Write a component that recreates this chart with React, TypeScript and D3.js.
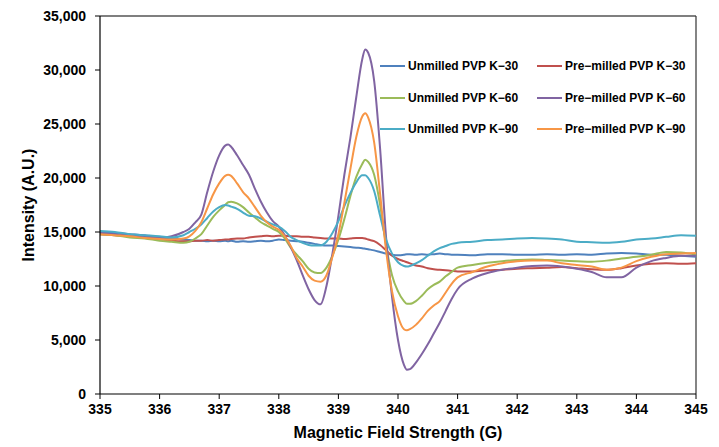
import React from "react";
import * as d3 from "d3";

const field = [335,335.25,335.5,335.75,336,336.2,336.4,
  336.5,336.6,336.7,336.8,336.9,337,337.1,337.15,
  337.2,337.3,337.4,337.5,337.6,337.7,337.8,337.9,338,338.1,338.2,338.3,338.4,338.5,338.6,338.7,338.8,338.9,339,339.1,339.2,339.3,339.4,
  339.45,339.5,339.6,339.7,339.8,339.9,340,340.1,340.15,
  340.2,340.3,340.4,340.5,340.6,340.7,340.8,340.9,341,
  341.25,341.5,341.75,342,342.25,342.5,342.75,343,343.25,343.5,343.75,344,344.25,344.5,344.75,345];

const unmilledK30 = [15000,14900,14800,14700,14500,14400,14300,
  14250,14200,14200,14150,14200,14150,14200,14150,
  14200,14100,14150,14100,14150,14200,14150,14200,14300,14250,14200,14150,14100,14000,13900,13800,13750,13750,13700,13650,13600,13550,13500,
  13450,13400,13300,13150,13000,12900,12850,12900,12950,
  12950,12900,12950,12900,12950,13000,12950,12900,12900,
  12850,12950,12950,12900,12900,12950,12900,12950,12900,13000,13050,13000,12900,12900,12800,12700];

const premilledK30 = [14800,14700,14600,14500,14300,14200,14150,
  14150,14200,14200,14250,14200,14250,14300,14300,
  14350,14400,14400,14500,14550,14600,14650,14600,14650,14650,14600,14600,14550,14550,14500,14450,14400,14400,14400,14350,14400,14450,14450,
  14400,14300,14150,13800,13300,12800,12500,12300,12200,
  12100,11900,11800,11650,11550,11500,11450,11400,11350,
  11350,11450,11500,11600,11650,11700,11750,11650,11550,11500,11650,11900,12050,12100,12050,12100];

const unmilledK60 = [14800,14700,14500,14400,14200,14100,14000,
  14100,14400,14800,15600,16400,17000,17500,17750,
  17800,17650,17300,16800,16350,15900,15600,15300,15000,14400,13550,12900,12300,11600,11250,11200,11700,12800,14300,16200,18300,20100,21300,
  21700,21500,20300,17500,13800,11000,9500,8600,8350,
  8350,8600,9100,9700,10100,10400,10900,11300,11700,
  11950,12150,12300,12400,12450,12400,12350,12300,12250,12350,12550,12700,12900,13150,13100,12900];

const premilledK60 = [14900,14800,14700,14600,14450,14600,15000,
  15300,15900,16600,18700,20600,22100,23000,23100,
  22900,22100,21200,20300,19000,17800,16800,16000,15500,14700,13600,12400,11000,9700,8700,8300,10000,13000,16500,20300,23700,27500,31000,
  31900,31600,29000,22700,14500,9000,5000,2700,2250,
  2300,2900,3700,4600,5600,6600,7700,8800,9700,
  10700,11200,11500,11700,11850,11900,11800,11600,11300,10800,10800,11700,12300,12600,12800,12800];

const unmilledK90 = [15100,15000,14800,14700,14600,14500,14700,
  15000,15300,15700,16300,16900,17300,17500,17450,
  17350,17150,16800,16500,16450,16250,15950,15700,15500,15100,14550,14250,14000,13800,13750,13750,14100,14900,16000,17400,18600,19600,20250,
  20250,20000,18800,16500,14300,13000,12200,11850,11800,
  11850,12100,12400,12800,13200,13500,13700,13900,14000,
  14100,14250,14300,14400,14450,14400,14300,14100,14050,14000,14100,14300,14400,14550,14700,14650];

const premilledK90 = [14800,14700,14600,14450,14350,14300,14400,
  14600,15100,15900,17200,18500,19500,20200,20300,
  20200,19500,18700,18100,17300,16500,15900,15500,15200,14600,13700,12600,11800,10950,10500,10400,11000,12700,14800,17700,20800,23800,25700,
  26000,25600,23300,18500,13300,9500,7200,6000,5900,
  6000,6400,7000,7700,8200,8600,9400,10200,10800,
  11300,11800,12100,12300,12350,12350,12100,11950,11800,11500,11700,12300,12700,12950,13000,13050];

const seriesNames = [
  "Unmilled PVP K\u221230",
  "Pre\u2212milled PVP K\u221230",
  "Unmilled PVP K\u221260",
  "Pre\u2212milled PVP K\u221260",
  "Unmilled PVP K\u221290",
  "Pre\u2212milled PVP K\u221290",
];
const seriesValues = [unmilledK30, premilledK30, unmilledK60, premilledK60, unmilledK90, premilledK90];
const seriesColors = ["#4F81BD", "#C0504D", "#9BBB59", "#8064A2", "#4BACC6", "#F79646"];

const xTicks = [335,336,337,338,339,340,341,342,343,344,345];
const yTicks = [0,5000,10000,15000,20000,25000,30000,35000];

const W = 719, H = 447;
const left = 100, right = 696, top = 16, bottom = 394;
const FONT = "Arial, 'Liberation Sans', sans-serif";

export default function App() {
  const x = d3.scaleLinear().domain([335, 345]).range([left, right]);
  const y = d3.scaleLinear().domain([0, 35000]).range([bottom, top]);
  const fmt = d3.format(",");
  const line = d3.line<number>()
    .x((_, i) => x(field[i]))
    .y((v) => y(v))
    .curve(d3.curveMonotoneX);

  const legendRows = [66, 98, 129];
  const legendCols = [380, 537];

  return (
    <svg width={W} height={H} style={{ position: "absolute", left: 0, top: 0, background: "#fff" }}
      fontFamily={FONT}>
      <rect x={0} y={0} width={W} height={H} fill="#fff" />
      {/* plot border */}
      <line x1={left} x2={right} y1={top} y2={top} stroke="#000" strokeWidth={1.2} />
      <line x1={right} x2={right} y1={top} y2={bottom} stroke="#333" strokeWidth={1.2} />
      {/* series */}
      {seriesValues.map((vals, i) => (
        <path key={i} d={line(vals) || ""} fill="none" stroke={seriesColors[i]} strokeWidth={2} strokeLinejoin="round" />
      ))}
      {/* axes */}
      <line x1={left} x2={left} y1={top} y2={bottom} stroke="#000" strokeWidth={1.2} />
      <line x1={left} x2={right} y1={bottom} y2={bottom} stroke="#000" strokeWidth={1.2} />
      {yTicks.map((t) => (
        <g key={t}>
          <line x1={left - 5} x2={left} y1={y(t)} y2={y(t)} stroke="#000" strokeWidth={1} />
          <text x={left - 14} y={y(t)} dy="0.35em" textAnchor="end" fontSize={14} fontWeight="bold" fill="#000">
            {fmt(t)}
          </text>
        </g>
      ))}
      {xTicks.map((t) => (
        <g key={t}>
          <line x1={x(t)} x2={x(t)} y1={bottom} y2={bottom + 5} stroke="#000" strokeWidth={1} />
          <text x={x(t)} y={414} textAnchor="middle" fontSize={14} fontWeight="bold" fill="#000">
            {t}
          </text>
        </g>
      ))}
      <text x={(left + right) / 2} y={438} textAnchor="middle" fontSize={16} fontWeight="bold" fill="#000">
        Magnetic Field Strength (G)
      </text>
      <text transform={`translate(34, ${(top + bottom) / 2}) rotate(-90)`} textAnchor="middle" fontSize={16} fontWeight="bold" fill="#000">
        Intensity (A.U.)
      </text>
      {/* legend */}
      {seriesNames.map((name, i) => {
        const cx = legendCols[i % 2];
        const cy = legendRows[Math.floor(i / 2)];
        return (
          <g key={name}>
            <line x1={cx} x2={cx + 25} y1={cy} y2={cy} stroke={seriesColors[i]} strokeWidth={2} />
            <text x={cx + 28} y={cy} dy="0.35em" fontSize={12} fontWeight="bold" fill="#000">
              {name}
            </text>
          </g>
        );
      })}
    </svg>
  );
}
